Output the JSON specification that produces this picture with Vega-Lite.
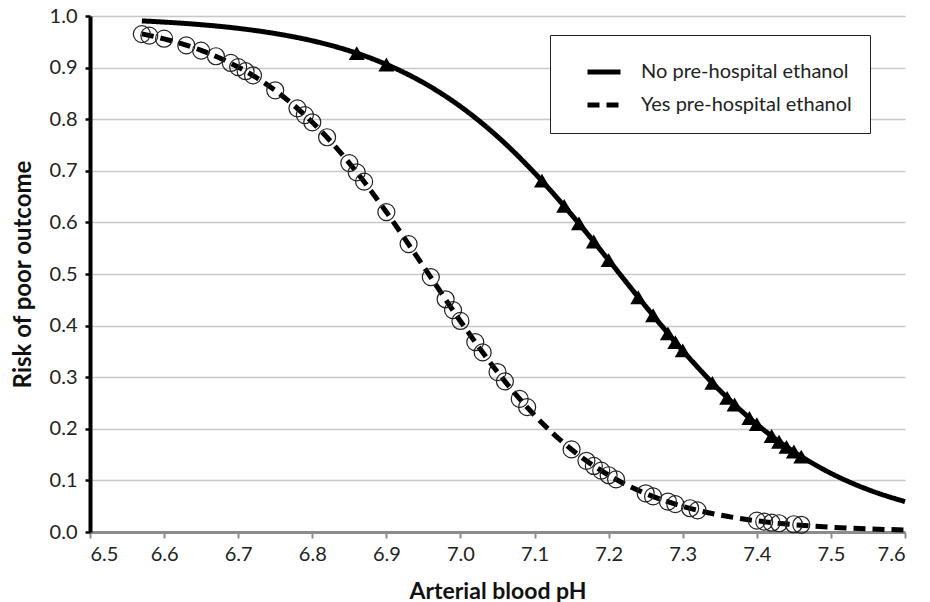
{
  "$schema": "https://vega.github.io/schema/vega-lite/v6.json",
  "width": 815,
  "height": 516,
  "autosize": {"type": "none"},
  "padding": {"left": 90, "top": 16, "right": 25, "bottom": 70},
  "background": "white",
  "datasets": {
    "curve": [
      {"ph": 6.57, "risk": 0.9905, "group": "No pre-hospital ethanol"},
      {"ph": 6.60, "risk": 0.9882, "group": "No pre-hospital ethanol"},
      {"ph": 6.65, "risk": 0.9832, "group": "No pre-hospital ethanol"},
      {"ph": 6.70, "risk": 0.9761, "group": "No pre-hospital ethanol"},
      {"ph": 6.75, "risk": 0.9660, "group": "No pre-hospital ethanol"},
      {"ph": 6.80, "risk": 0.9520, "group": "No pre-hospital ethanol"},
      {"ph": 6.85, "risk": 0.9326, "group": "No pre-hospital ethanol"},
      {"ph": 6.90, "risk": 0.9062, "group": "No pre-hospital ethanol"},
      {"ph": 6.95, "risk": 0.8708, "group": "No pre-hospital ethanol"},
      {"ph": 7.00, "risk": 0.8246, "group": "No pre-hospital ethanol"},
      {"ph": 7.05, "risk": 0.7664, "group": "No pre-hospital ethanol"},
      {"ph": 7.10, "risk": 0.6959, "group": "No pre-hospital ethanol"},
      {"ph": 7.15, "risk": 0.6149, "group": "No pre-hospital ethanol"},
      {"ph": 7.20, "risk": 0.5270, "group": "No pre-hospital ethanol"},
      {"ph": 7.25, "risk": 0.4373, "group": "No pre-hospital ethanol"},
      {"ph": 7.30, "risk": 0.3516, "group": "No pre-hospital ethanol"},
      {"ph": 7.35, "risk": 0.2745, "group": "No pre-hospital ethanol"},
      {"ph": 7.40, "risk": 0.2088, "group": "No pre-hospital ethanol"},
      {"ph": 7.45, "risk": 0.1555, "group": "No pre-hospital ethanol"},
      {"ph": 7.50, "risk": 0.1138, "group": "No pre-hospital ethanol"},
      {"ph": 7.55, "risk": 0.0823, "group": "No pre-hospital ethanol"},
      {"ph": 7.60, "risk": 0.0589, "group": "No pre-hospital ethanol"},
      {"ph": 6.57, "risk": 0.9654, "group": "Yes pre-hospital ethanol"},
      {"ph": 6.60, "risk": 0.9556, "group": "Yes pre-hospital ethanol"},
      {"ph": 6.65, "risk": 0.9334, "group": "Yes pre-hospital ethanol"},
      {"ph": 6.70, "risk": 0.9011, "group": "Yes pre-hospital ethanol"},
      {"ph": 6.75, "risk": 0.8557, "group": "Yes pre-hospital ethanol"},
      {"ph": 6.80, "risk": 0.7942, "group": "Yes pre-hospital ethanol"},
      {"ph": 6.85, "risk": 0.7150, "group": "Yes pre-hospital ethanol"},
      {"ph": 6.90, "risk": 0.6201, "group": "Yes pre-hospital ethanol"},
      {"ph": 6.95, "risk": 0.5150, "group": "Yes pre-hospital ethanol"},
      {"ph": 7.00, "risk": 0.4085, "group": "Yes pre-hospital ethanol"},
      {"ph": 7.05, "risk": 0.3100, "group": "Yes pre-hospital ethanol"},
      {"ph": 7.10, "risk": 0.2262, "group": "Yes pre-hospital ethanol"},
      {"ph": 7.15, "risk": 0.1598, "group": "Yes pre-hospital ethanol"},
      {"ph": 7.20, "risk": 0.1101, "group": "Yes pre-hospital ethanol"},
      {"ph": 7.25, "risk": 0.0745, "group": "Yes pre-hospital ethanol"},
      {"ph": 7.30, "risk": 0.0497, "group": "Yes pre-hospital ethanol"},
      {"ph": 7.35, "risk": 0.0329, "group": "Yes pre-hospital ethanol"},
      {"ph": 7.40, "risk": 0.0217, "group": "Yes pre-hospital ethanol"},
      {"ph": 7.45, "risk": 0.0142, "group": "Yes pre-hospital ethanol"},
      {"ph": 7.50, "risk": 0.0093, "group": "Yes pre-hospital ethanol"},
      {"ph": 7.55, "risk": 0.0061, "group": "Yes pre-hospital ethanol"},
      {"ph": 7.60, "risk": 0.0040, "group": "Yes pre-hospital ethanol"}
    ],
    "obs": [
      {"ph": 6.86, "risk": 0.928, "group": "No pre-hospital ethanol"},
      {"ph": 6.90, "risk": 0.906, "group": "No pre-hospital ethanol"},
      {"ph": 7.11, "risk": 0.681, "group": "No pre-hospital ethanol"},
      {"ph": 7.14, "risk": 0.632, "group": "No pre-hospital ethanol"},
      {"ph": 7.16, "risk": 0.598, "group": "No pre-hospital ethanol"},
      {"ph": 7.18, "risk": 0.563, "group": "No pre-hospital ethanol"},
      {"ph": 7.20, "risk": 0.527, "group": "No pre-hospital ethanol"},
      {"ph": 7.24, "risk": 0.455, "group": "No pre-hospital ethanol"},
      {"ph": 7.26, "risk": 0.420, "group": "No pre-hospital ethanol"},
      {"ph": 7.28, "risk": 0.385, "group": "No pre-hospital ethanol"},
      {"ph": 7.29, "risk": 0.368, "group": "No pre-hospital ethanol"},
      {"ph": 7.30, "risk": 0.352, "group": "No pre-hospital ethanol"},
      {"ph": 7.34, "risk": 0.289, "group": "No pre-hospital ethanol"},
      {"ph": 7.36, "risk": 0.260, "group": "No pre-hospital ethanol"},
      {"ph": 7.37, "risk": 0.247, "group": "No pre-hospital ethanol"},
      {"ph": 7.39, "risk": 0.221, "group": "No pre-hospital ethanol"},
      {"ph": 7.40, "risk": 0.209, "group": "No pre-hospital ethanol"},
      {"ph": 7.42, "risk": 0.186, "group": "No pre-hospital ethanol"},
      {"ph": 7.43, "risk": 0.175, "group": "No pre-hospital ethanol"},
      {"ph": 7.44, "risk": 0.165, "group": "No pre-hospital ethanol"},
      {"ph": 7.45, "risk": 0.156, "group": "No pre-hospital ethanol"},
      {"ph": 7.46, "risk": 0.146, "group": "No pre-hospital ethanol"},
      {"ph": 6.57, "risk": 0.965, "group": "Yes pre-hospital ethanol"},
      {"ph": 6.58, "risk": 0.962, "group": "Yes pre-hospital ethanol"},
      {"ph": 6.60, "risk": 0.956, "group": "Yes pre-hospital ethanol"},
      {"ph": 6.63, "risk": 0.943, "group": "Yes pre-hospital ethanol"},
      {"ph": 6.65, "risk": 0.933, "group": "Yes pre-hospital ethanol"},
      {"ph": 6.67, "risk": 0.922, "group": "Yes pre-hospital ethanol"},
      {"ph": 6.69, "risk": 0.909, "group": "Yes pre-hospital ethanol"},
      {"ph": 6.70, "risk": 0.901, "group": "Yes pre-hospital ethanol"},
      {"ph": 6.71, "risk": 0.893, "group": "Yes pre-hospital ethanol"},
      {"ph": 6.72, "risk": 0.885, "group": "Yes pre-hospital ethanol"},
      {"ph": 6.75, "risk": 0.856, "group": "Yes pre-hospital ethanol"},
      {"ph": 6.78, "risk": 0.821, "group": "Yes pre-hospital ethanol"},
      {"ph": 6.79, "risk": 0.808, "group": "Yes pre-hospital ethanol"},
      {"ph": 6.80, "risk": 0.794, "group": "Yes pre-hospital ethanol"},
      {"ph": 6.82, "risk": 0.765, "group": "Yes pre-hospital ethanol"},
      {"ph": 6.85, "risk": 0.715, "group": "Yes pre-hospital ethanol"},
      {"ph": 6.86, "risk": 0.697, "group": "Yes pre-hospital ethanol"},
      {"ph": 6.87, "risk": 0.679, "group": "Yes pre-hospital ethanol"},
      {"ph": 6.90, "risk": 0.620, "group": "Yes pre-hospital ethanol"},
      {"ph": 6.93, "risk": 0.558, "group": "Yes pre-hospital ethanol"},
      {"ph": 6.96, "risk": 0.494, "group": "Yes pre-hospital ethanol"},
      {"ph": 6.98, "risk": 0.451, "group": "Yes pre-hospital ethanol"},
      {"ph": 6.99, "risk": 0.430, "group": "Yes pre-hospital ethanol"},
      {"ph": 7.00, "risk": 0.409, "group": "Yes pre-hospital ethanol"},
      {"ph": 7.02, "risk": 0.368, "group": "Yes pre-hospital ethanol"},
      {"ph": 7.03, "risk": 0.348, "group": "Yes pre-hospital ethanol"},
      {"ph": 7.05, "risk": 0.310, "group": "Yes pre-hospital ethanol"},
      {"ph": 7.06, "risk": 0.292, "group": "Yes pre-hospital ethanol"},
      {"ph": 7.08, "risk": 0.258, "group": "Yes pre-hospital ethanol"},
      {"ph": 7.09, "risk": 0.242, "group": "Yes pre-hospital ethanol"},
      {"ph": 7.15, "risk": 0.160, "group": "Yes pre-hospital ethanol"},
      {"ph": 7.17, "risk": 0.138, "group": "Yes pre-hospital ethanol"},
      {"ph": 7.18, "risk": 0.128, "group": "Yes pre-hospital ethanol"},
      {"ph": 7.19, "risk": 0.119, "group": "Yes pre-hospital ethanol"},
      {"ph": 7.20, "risk": 0.110, "group": "Yes pre-hospital ethanol"},
      {"ph": 7.21, "risk": 0.102, "group": "Yes pre-hospital ethanol"},
      {"ph": 7.25, "risk": 0.075, "group": "Yes pre-hospital ethanol"},
      {"ph": 7.26, "risk": 0.069, "group": "Yes pre-hospital ethanol"},
      {"ph": 7.28, "risk": 0.059, "group": "Yes pre-hospital ethanol"},
      {"ph": 7.29, "risk": 0.054, "group": "Yes pre-hospital ethanol"},
      {"ph": 7.31, "risk": 0.046, "group": "Yes pre-hospital ethanol"},
      {"ph": 7.32, "risk": 0.042, "group": "Yes pre-hospital ethanol"},
      {"ph": 7.40, "risk": 0.022, "group": "Yes pre-hospital ethanol"},
      {"ph": 7.41, "risk": 0.020, "group": "Yes pre-hospital ethanol"},
      {"ph": 7.42, "risk": 0.018, "group": "Yes pre-hospital ethanol"},
      {"ph": 7.43, "risk": 0.017, "group": "Yes pre-hospital ethanol"},
      {"ph": 7.45, "risk": 0.015, "group": "Yes pre-hospital ethanol"},
      {"ph": 7.46, "risk": 0.014, "group": "Yes pre-hospital ethanol"}
    ]
  },
  "encoding": {
    "x": {
      "field": "ph",
      "type": "quantitative",
      "scale": {"domain": [6.5, 7.6], "nice": false, "zero": false},
      "axis": {
        "title": "Arterial blood pH",
        "values": [6.5, 6.6, 6.7, 6.8, 6.9, 7.0, 7.1, 7.2, 7.3, 7.4, 7.5, 7.6],
        "format": ".1f",
        "grid": false,
        "domainColor": "#8c8c8c",
        "domainWidth": 3,
        "tickColor": "#8c8c8c",
        "tickWidth": 2,
        "tickSize": 6,
        "labelPadding": 6,
        "titleFontSize": 23,
        "titlePadding": 16
      }
    },
    "y": {
      "field": "risk",
      "type": "quantitative",
      "scale": {"domain": [0, 1], "nice": false},
      "axis": {
        "title": "Risk of poor outcome",
        "values": [0, 0.1, 0.2, 0.3, 0.4, 0.5, 0.6, 0.7, 0.8, 0.9, 1.0],
        "format": ".1f",
        "grid": true,
        "gridColor": "#c8c8c8",
        "gridWidth": 1.5,
        "domainColor": "black",
        "domainWidth": 4,
        "tickColor": "black",
        "tickWidth": 2.5,
        "tickSize": 5,
        "labelPadding": 8,
        "titleFontSize": 24,
        "titlePadding": 14
      }
    }
  },
  "layer": [
    {
      "data": {"name": "curve"},
      "mark": {"type": "line", "color": "black", "strokeWidth": 5, "interpolate": "monotone"},
      "encoding": {
        "strokeDash": {
          "field": "group",
          "type": "nominal",
          "scale": {
            "domain": ["No pre-hospital ethanol", "Yes pre-hospital ethanol"],
            "range": [[1, 0], [12, 7]]
          },
          "legend": {
            "title": null,
            "orient": "none",
            "legendX": 460,
            "legendY": 19,
            "padding": 18,
            "symbolOffset": 17,
            "fillColor": "white",
            "strokeColor": "#222222",
            "symbolType": "stroke",
            "symbolSize": 1089,
            "symbolStrokeWidth": 5,
            "symbolStrokeColor": "black",
            "labelOffset": 18,
            "labelFontSize": 20,
            "labelFont": "Lato",
            "labelColor": "#222222",
            "labelLimit": 400,
            "rowPadding": 4
          }
        }
      }
    },
    {
      "data": {"name": "obs"},
      "transform": [{"filter": "datum.group == 'Yes pre-hospital ethanol'"}],
      "mark": {"type": "point", "shape": "circle", "filled": false, "stroke": "#222222", "strokeWidth": 1.2, "size": 289, "opacity": 1}
    },
    {
      "data": {"name": "obs"},
      "transform": [{"filter": "datum.group == 'No pre-hospital ethanol'"}],
      "mark": {"type": "point", "shape": "triangle-up", "filled": true, "color": "black", "size": 256, "opacity": 1}
    }
  ],
  "config": {
    "view": {"stroke": null},
    "axis": {
      "labelFont": "Lato",
      "labelFontSize": 20,
      "labelColor": "#222222",
      "titleFont": "Lato",
      "titleFontWeight": "bold",
      "titleColor": "#111111"
    }
  }
}
